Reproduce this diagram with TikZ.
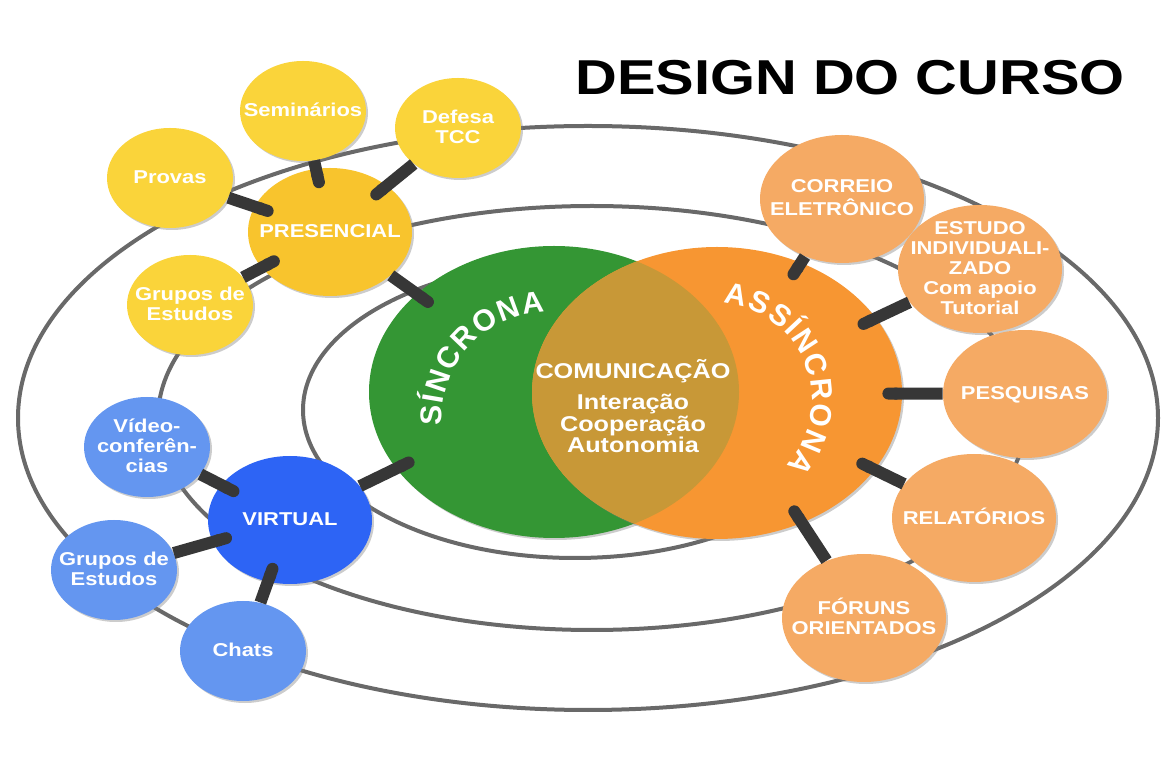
\documentclass[tikz,border=0pt]{standalone}
\usepackage{fontspec}
\setmainfont{Liberation Sans}[FakeStretch=1.18]
\newfontfamily\arcfont{Liberation Sans}
\usetikzlibrary{shapes.geometric,arrows.meta,decorations.text,shadows}

\definecolor{ringgray}{RGB}{105,105,105}
\definecolor{stickgray}{RGB}{55,55,55}
\definecolor{sinccol}{RGB}{52,150,52}
\definecolor{asinccol}{RGB}{247,150,50}
\definecolor{commcol}{RGB}{200,152,55}
\definecolor{yellowsat}{RGB}{250,212,58}
\definecolor{yellowhub}{RGB}{248,196,45}
\definecolor{bluehub}{RGB}{45,100,245}
\definecolor{bluesat}{RGB}{100,150,240}
\definecolor{orangesat}{RGB}{245,170,100}

% centred label that does not widen the ellipse
\newcommand\ctext[1]{\makebox[0pt]{\raisebox{-.3em}[0pt][0pt]{\begin{tabular}{@{}c@{}}#1\end{tabular}}}}

\tikzset{
  circ/.style={ellipse, inner sep=0pt, text=white, font=\fontsize{9.3}{10}\selectfont\bfseries,
    drop shadow={shadow xshift=1pt, shadow yshift=-1pt, opacity=.4}},
  small/.style={circ, minimum width=63pt, minimum height=50pt},
  large/.style={circ, minimum width=82pt, minimum height=64pt},
  hub/.style={ellipse, inner sep=0pt, minimum width=185pt, minimum height=146pt,
    drop shadow={shadow xshift=1pt, shadow yshift=-1pt, opacity=.4}},
  ring/.style={draw=ringgray, line width=2pt},
  stick/.style={draw=stickgray, line width=6pt, -{Round Cap}, shorten >=-10pt},
  arctext/.style={decorate, decoration={text along path, text align=center, text color=white}},
}

\begin{document}
\begin{tikzpicture}[x=0.5pt,y=0.5pt,yscale=-1,xscale=1]
\useasboundingbox (0,0) rectangle (1162,769);

%Shape: Ellipse (rings)
\draw[ring] (575,410) ellipse [x radius=272, y radius=148];
\draw[ring] (592,418) ellipse [x radius=434, y radius=212];
\draw[ring] (588,418) ellipse [x radius=570, y radius=292];

%Shape: Ellipse (centre)
\node[hub, fill=sinccol] (sinc) at (554,392) {};
\node[hub, fill=asinccol] (asinc) at (717,393) {};
\begin{scope}
  \clip (sinc) ellipse [x radius=185, y radius=146];
  \fill[commcol] (asinc) ellipse [x radius=185, y radius=146];
\end{scope}

% Text Node
\node[font=\fontsize{10.7}{10.75}\selectfont\bfseries, text=white, align=center] (comm) at (633,406)
  {COMUNICAÇÃO\\[5pt]Interação\\Cooperação\\Autonomia};
\path[arctext, decoration={text={|\arcfont\fontsize{15}{15}\selectfont\bfseries|S{\kern.8pt}Í{\kern.8pt}N{\kern.8pt}C{\kern.8pt}R{\kern.8pt}O{\kern.8pt}N{\kern.8pt}A}}]
  (sinc) ++(-6,26) ++(132:106) arc[start angle=132, end angle=312, radius=106];
\path[arctext, decoration={text={|\arcfont\fontsize{15}{15}\selectfont\bfseries|A{\kern.8pt}S{\kern.8pt}S{\kern.8pt}Í{\kern.8pt}N{\kern.8pt}C{\kern.8pt}R{\kern.8pt}O{\kern.8pt}N{\kern.8pt}A}}]
  (asinc) ++(-2,7) ++(249:97) arc[start angle=249, end angle=429, radius=97];

%Shape: Ellipse (hubs)
\node[large, fill=yellowhub] (pres) at (330,232) {\ctext{PRESENCIAL}};
\node[large, fill=bluehub] (virt) at (290,520) {\ctext{VIRTUAL}};
\draw[stick] (pres) -- (sinc);
\draw[stick] (virt) -- (sinc);

%Shape: Ellipse (presencial)
\node[small, fill=yellowsat] (sem) at (303,111) {\ctext{Seminários}};
\node[small, fill=yellowsat] (prov) at (170,178) {\ctext{Provas}};
\node[small, fill=yellowsat] (tcc) at (458,128) {\ctext{Defesa\\TCC}};
\node[small, fill=yellowsat] (grupA) at (190,305) {\ctext{Grupos de\\Estudos}};
\foreach \s in {sem,prov,tcc,grupA} \draw[stick] (\s) -- (pres);

%Shape: Ellipse (virtual)
\node[small, fill=bluesat] (video) at (147,447) {\ctext{Vídeo-\\conferên-\\cias}};
\node[small, fill=bluesat] (grupB) at (114,570) {\ctext{Grupos de\\Estudos}};
\node[small, fill=bluesat] (chats) at (243,651) {\ctext{Chats}};
\foreach \s in {video,grupB,chats} \draw[stick] (\s) -- (virt);

%Shape: Ellipse (assincrona)
\node[large, fill=orangesat] (mail) at (842,199) {\ctext{CORREIO\\ELETRÔNICO}};
\node[large, fill=orangesat] (estudo) at (980,269) {\ctext{ESTUDO\\INDIVIDUALI-\\ZADO\\Com apoio\\Tutorial}};
\node[large, fill=orangesat] (pesq) at (1025,394) {\ctext{PESQUISAS}};
\node[large, fill=orangesat] (relat) at (974,518) {\ctext{RELATÓRIOS}};
\node[large, fill=orangesat] (forum) at (864,618) {\ctext{FÓRUNS\\ORIENTADOS}};
\foreach \s in {mail,estudo,pesq,relat,forum} \draw[stick] (\s) -- (asinc);

% Text Node
\node[font=\fontsize{24.5}{24.5}\selectfont\bfseries] (title) at (850,78) {DESIGN DO CURSO};
\end{tikzpicture}
\end{document}
